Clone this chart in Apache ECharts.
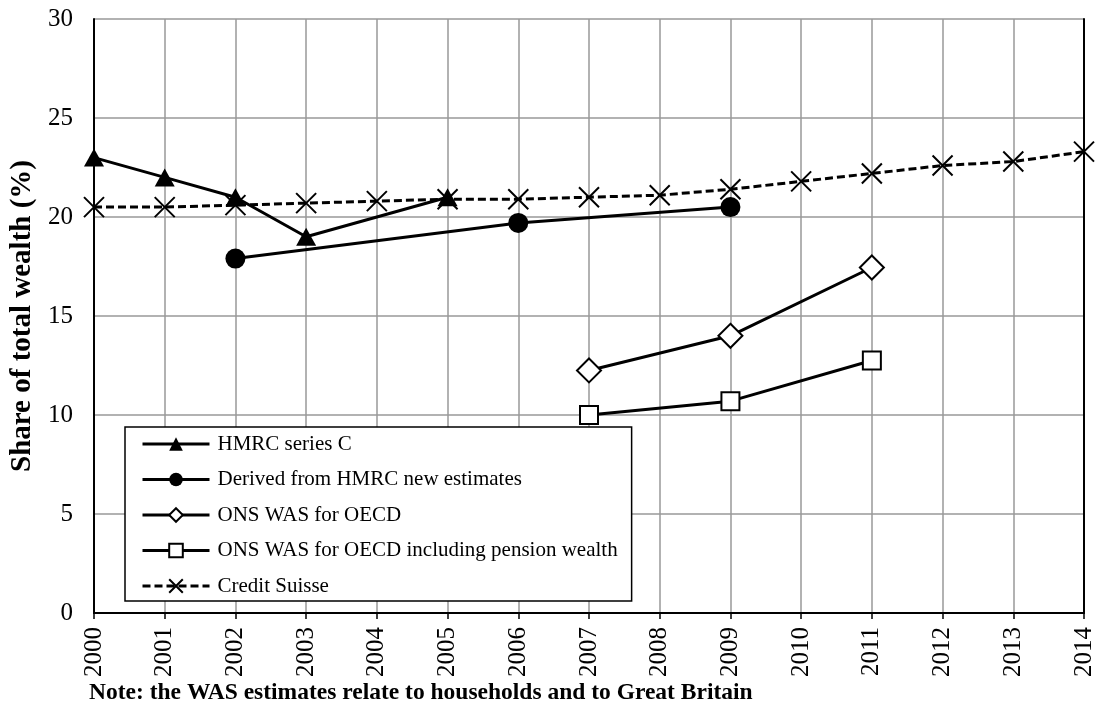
<!DOCTYPE html>
<html>
<head>
<meta charset="utf-8">
<script src="https://cdn.jsdelivr.net/npm/echarts@6/dist/echarts.min.js"></script>
<style>
  html, body { margin: 0; padding: 0; background: #fff; }
  #chart { width: 1098px; height: 716px; }
</style>
</head>
<body>
<div id="chart"></div>
<script>
// years on the x axis
const years = ['2000','2001','2002','2003','2004','2005','2006','2007','2008','2009','2010','2011','2012','2013','2014'];

// share of total wealth (%), null = no estimate
const hmrcSeriesC   = [23.0, 22.0, 21.0, 19.0, null, 21.0, null, null, null, null, null, null, null, null, null];
const hmrcDerived   = [null, null, 17.9, null, null, null, 19.7, null, null, 20.5, null, null, null, null, null];
const onsWas        = [null, null, null, null, null, null, null, 12.25, null, 14.0, null, 17.45, null, null, null];
const onsWasPension = [null, null, null, null, null, null, null, 10.0, null, 10.7, null, 12.75, null, null, null];
const creditSuisse  = [20.5, 20.5, 20.6, 20.7, 20.8, 20.9, 20.9, 21.0, 21.1, 21.4, 21.8, 22.2, 22.6, 22.8, 23.3];

const yTicks = [0, 5, 10, 15, 20, 25, 30];

const serif = '"Liberation Serif", "Times New Roman", serif';
const chart = echarts.init(document.getElementById('chart'));

function lineSeries(name, data, symbol, size, fill, dashed) {
  return {
    name: name,
    type: 'line',
    data: data,
    connectNulls: true,
    symbol: symbol,
    symbolSize: size,
    showAllSymbol: true,
    clip: false,
    lineStyle: { color: '#000', width: 3, type: dashed ? [8, 4] : 'solid' },
    itemStyle: { color: fill, borderColor: '#000', borderWidth: fill === '#000' ? 0 : 2 },
    emphasis: { disabled: true }
  };
}

const option = {
  animation: false,
  backgroundColor: '#fff',
  grid: { left: 93, right: 14, top: 19, bottom: 103 },
  xAxis: [{
    type: 'category',
    data: years,
    boundaryGap: false,
    axisLine: { lineStyle: { color: '#000', width: 2 } },
    axisTick: { show: true, interval: 0, length: 6, lineStyle: { color: '#000', width: 1.5 } },
    axisLabel: { interval: 0, rotate: 90, margin: 14, color: '#000', fontSize: 25, fontFamily: serif },
    splitLine: { show: true, interval: 0, lineStyle: { color: '#999', width: 1.5 } }
  }, {
    // top border of the plot
    type: 'category',
    data: years,
    position: 'top',
    boundaryGap: false,
    axisLine: { show: true, lineStyle: { color: '#000', width: 2 } },
    axisTick: { show: false },
    axisLabel: { show: false },
    splitLine: { show: false }
  }],
  yAxis: [{
    type: 'value',
    min: yTicks[0],
    max: yTicks[yTicks.length - 1],
    interval: 5,
    name: 'Share of total wealth (%)',
    nameLocation: 'middle',
    nameGap: 57,
    nameTextStyle: { color: '#000', fontSize: 29, fontWeight: 'bold', fontFamily: serif },
    axisLine: { show: true, lineStyle: { color: '#000', width: 2 } },
    axisTick: { show: false },
    axisLabel: { color: '#000', fontSize: 25, fontFamily: serif, margin: 21 },
    splitLine: { show: true, lineStyle: { color: '#999', width: 1.5 } }
  }, {
    // right border of the plot
    type: 'value',
    position: 'right',
    min: yTicks[0],
    max: yTicks[yTicks.length - 1],
    interval: 5,
    axisLine: { show: true, lineStyle: { color: '#000', width: 2 } },
    axisTick: { show: false },
    axisLabel: { show: false },
    splitLine: { show: false }
  }],
  legend: {
    orient: 'vertical',
    left: 125,
    top: 427,
    padding: [6.5, 14, 4.5, 16],
    itemWidth: 67,
    itemHeight: 17,
    itemGap: 14.5,
    lineStyle: { width: 3 },
    backgroundColor: '#fff',
    borderColor: '#000',
    borderWidth: 1.5,
    textStyle: { color: '#000', fontSize: 21, lineHeight: 21, fontFamily: serif, padding: [0, 0, 0, 3] },
    data: ['HMRC series C', 'Derived from HMRC new estimates', 'ONS WAS for OECD',
           'ONS WAS for OECD including pension wealth', 'Credit Suisse']
  },
  series: [
    lineSeries('HMRC series C', hmrcSeriesC, 'triangle', [20, 18], '#000', false),
    lineSeries('Derived from HMRC new estimates', hmrcDerived, 'circle', 20, '#000', false),
    lineSeries('ONS WAS for OECD', onsWas, 'diamond', 24, '#fff', false),
    lineSeries('ONS WAS for OECD including pension wealth', onsWasPension, 'rect', 18, '#fff', false),
    lineSeries('Credit Suisse', creditSuisse, 'path://M0,0L10,10M10,0L0,10', 20, 'none', true)
  ],
  graphic: [{
    type: 'text',
    left: 89,
    top: 681,
    style: {
      text: 'Note: the WAS estimates relate to households and to Great Britain',
      fill: '#000',
      font: 'bold 23.5px ' + serif
    }
  }]
};

chart.setOption(option);
</script>
</body>
</html>
